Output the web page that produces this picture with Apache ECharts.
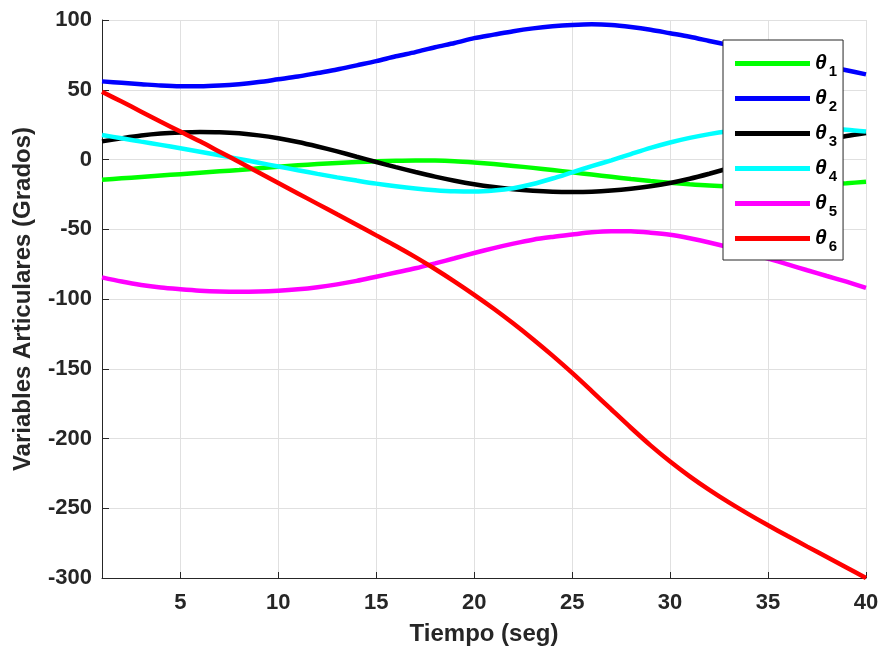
<!DOCTYPE html>
<html>
<head>
<meta charset="utf-8">
<script src="https://cdn.jsdelivr.net/npm/echarts@6/dist/echarts.min.js"></script>
<style>
  html, body { margin: 0; padding: 0; background: #fff; }
  #chart { width: 883px; height: 652px; }
</style>
</head>
<body>
<div id="chart"></div>
<script>
// tiempo (seg)
const tiempo = [1, 2, 3, 4, 5, 6, 7, 8, 9, 10, 11, 12, 13, 14, 15, 16, 17, 18, 19, 20,
  21, 22, 23, 24, 25, 26, 27, 28, 29, 30, 31, 32, 33, 34, 35, 36, 37, 38, 39, 40];

const theta1 = [-14.5, -13.5, -12.5, -11.5, -10.5, -9.5, -8.5, -7.5, -6.3, -5.2,
  -4.2, -3.3, -2.5, -1.8, -1.3, -0.9, -0.7, -0.8, -1.3, -2.2,
  -3.3, -4.6, -6, -7.5, -9.2, -10.8, -12.4, -14, -15.4, -16.7,
  -17.8, -18.7, -19.3, -19.6, -19.6, -19.3, -18.7, -17.9, -17, -16];
const theta2 = [56, 55, 54, 53, 52.5, 52.5, 53, 54, 55.5, 57.5,
  59.5, 62, 64.5, 67.5, 70.5, 74, 77, 80.5, 83.5, 87,
  89.5, 92, 94, 95.5, 96.5, 97, 96.5, 95, 93, 90.5,
  88, 85, 82, 79, 76, 73, 70, 67, 64, 61];
const theta3 = [13, 15.2, 17.2, 18.6, 19.4, 19.8, 19.6, 18.8, 17.3, 15.2,
  12.5, 9.3, 5.8, 2, -1.8, -5.5, -9, -12.3, -15.2, -17.7,
  -19.7, -21.3, -22.4, -23.1, -23.3, -23.1, -22.3, -21, -19.2, -16.8,
  -13.8, -10.2, -6.3, -2.2, 2, 6.2, 10.2, 13.8, 16.8, 19];
const theta4 = [17.5, 15.2, 12.8, 10.5, 8.1, 5.6, 3, 0.4, -2.3, -5,
  -7.7, -10.3, -12.8, -15.1, -17.3, -19.2, -20.8, -22, -22.8, -23,
  -22.3, -20.6, -17.6, -13.6, -9.2, -4.8, -0.6, 3.9, 8.3, 12.2,
  15.5, 18.2, 20.2, 21.6, 22.4, 22.7, 22.6, 22.2, 21.3, 20];
const theta5 = [-84.5, -87.5, -90, -91.8, -93, -94, -94.6, -94.8, -94.6, -94,
  -93, -91.5, -89.5, -87, -84, -81, -78, -74.5, -70.8, -67,
  -63.5, -60.3, -57.5, -55.5, -53.8, -52.2, -51.4, -51.5, -52.5, -54,
  -56.5, -59.5, -63, -67, -71, -75.2, -79.4, -83.5, -87.6, -92];
const theta6 = [48.5, 41.5, 34.3, 27, 20, 13, 5.6, -1.8, -9.3, -16.8,
  -24.3, -31.8, -39.3, -46.8, -54.4, -62, -70, -78.5, -87.5, -97,
  -107, -117.6, -128.8, -140.6, -153, -166, -179.2, -192.3, -204.9, -216.5,
  -227.1, -236.8, -245.8, -254.2, -262.2, -269.9, -277.5, -285, -292.5, -300];

const xTicks = [5, 10, 15, 20, 25, 30, 35, 40];
const nombres = ['θ1', 'θ2', 'θ3', 'θ4', 'θ5', 'θ6'];
const colores = ['#00ff00', '#0000ff', '#000000', '#00ffff', '#ff00ff', '#ff0000'];
const datos = [theta1, theta2, theta3, theta4, theta5, theta6];

const txt = '#262626';
const fuente = '"Liberation Sans", Arial, sans-serif';

const chart = echarts.init(document.getElementById('chart'), null, { renderer: 'canvas' });

chart.setOption({
  animation: false,
  backgroundColor: '#fff',
  textStyle: { fontFamily: fuente },
  grid: { left: 102, right: 17, top: 20, bottom: 74, outerBoundsMode: 'none', containLabel: false },
  xAxis: {
    type: 'value',
    min: 1,
    max: 40,
    name: 'Tiempo (seg)',
    nameLocation: 'middle',
    nameGap: 44,
    nameTextStyle: { color: txt, fontSize: 24, fontWeight: 'bold', fontFamily: fuente },
    axisLine: { show: true, onZero: false, lineStyle: { color: txt, width: 1 } },
    axisTick: { inside: true, length: 6, customValues: xTicks, lineStyle: { color: txt } },
    axisLabel: { customValues: xTicks, color: txt, fontSize: 22, fontWeight: 'bold', margin: 14 },
    splitLine: { show: true, lineStyle: { color: '#e0e0e0', width: 1 } },
  },
  yAxis: {
    type: 'value',
    min: -300,
    max: 100,
    interval: 50,
    name: 'Variables Articulares (Grados)',
    nameLocation: 'middle',
    nameGap: 67,
    nameTextStyle: { color: txt, fontSize: 24, fontWeight: 'bold', fontFamily: fuente },
    axisLine: { show: true, onZero: false, lineStyle: { color: txt, width: 1 } },
    axisTick: { show: true, inside: true, length: 7, lineStyle: { color: txt } },
    axisLabel: { color: txt, fontSize: 22, fontWeight: 'bold', margin: 10 },
    splitLine: { show: true, lineStyle: { color: '#e0e0e0', width: 1 } },
  },
  legend: {
    orient: 'vertical',
    left: 723,
    top: 40,
    padding: [8, 6, 6, 12],
    backgroundColor: '#fff',
    borderColor: '#262626',
    borderWidth: 1,
    borderRadius: 0,
    icon: 'rect',
    itemWidth: 75,
    itemHeight: 5,
    itemGap: 4,
    data: nombres,
    formatter: n => '{t|θ}{s|' + n.slice(1) + '}',
    textStyle: {
      color: '#000',
      rich: {
        t: { fontSize: 21, fontStyle: 'italic', fontWeight: 'bold', fontFamily: fuente, color: '#000', lineHeight: 28 },
        s: { fontSize: 15, fontWeight: 'bold', fontFamily: fuente, color: '#000', padding: [16, 0, 0, 2], lineHeight: 28 },
      },
    },
  },
  series: nombres.map((n, i) => ({
    name: n,
    type: 'line',
    showSymbol: false,
    symbol: 'none',
    smooth: 0.3,
    color: colores[i],
    lineStyle: { color: colores[i], width: 4.5 },
    data: tiempo.map((t, k) => [t, datos[i][k]]),
  })),
});
</script>
</body>
</html>
